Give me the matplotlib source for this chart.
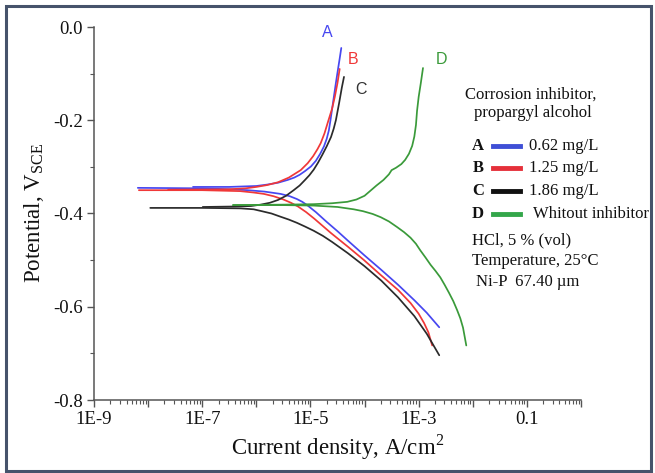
import numpy as np
import matplotlib
matplotlib.use("Agg")
import matplotlib.pyplot as plt
from matplotlib.patches import Rectangle
from matplotlib.lines import Line2D
from matplotlib.ticker import FixedLocator, LogLocator, NullFormatter, MultipleLocator

plt.rcParams['font.family'] = ['Liberation Serif', 'DejaVu Serif']
plt.rcParams['mathtext.fontset'] = 'custom'
plt.rcParams['mathtext.rm'] = 'Liberation Serif'

# ---- data: log10(current density, A/cm2) and potential (V vs SCE) ----
a_an_logi = [-7.17, -6.5, -6.0, -5.8, -5.6, -5.42, -5.3, -5.2, -5.1, -4.99, -4.9, -4.82, -4.75, -4.70,
             -4.66, -4.63, -4.58, -4.53, -4.49, -4.46, -4.43]
a_an_E    = [-0.343, -0.343, -0.341, -0.338, -0.334, -0.328, -0.323, -0.317, -0.309, -0.299, -0.287, -0.272,
             -0.256, -0.240, -0.222, -0.200, -0.160, -0.120, -0.090, -0.068, -0.045]
a_ca_logi = [-8.19, -7.0, -6.5, -6.16, -5.85, -5.55, -5.38, -5.25, -5.15, -5.05, -4.9, -4.7, -4.5, -4.31,
             -4.0, -3.69, -3.38, -3.08, -2.85, -2.62]
a_ca_E    = [-0.345, -0.346, -0.348, -0.350, -0.353, -0.358, -0.363, -0.369, -0.375, -0.383, -0.397, -0.418,
             -0.438, -0.458, -0.490, -0.521, -0.553, -0.586, -0.613, -0.644]

b_an_logi = [-7.63, -6.5, -6.2, -6.0, -5.8, -5.6, -5.4, -5.18, -5.05, -4.95, -4.87, -4.81, -4.74, -4.68,
             -4.6, -4.55, -4.5, -4.46]
b_an_E    = [-0.349, -0.348, -0.346, -0.343, -0.339, -0.333, -0.323, -0.307, -0.292, -0.277, -0.262, -0.249,
             -0.228, -0.205, -0.175, -0.150, -0.120, -0.090]
b_ca_logi = [-8.17, -7.0, -6.3, -6.05, -5.86, -5.68, -5.5, -5.36, -5.23, -5.08, -4.93, -4.78, -4.62, -4.3,
             -4.01, -3.7, -3.38, -3.15, -3.0, -2.9, -2.82, -2.75]
b_ca_E    = [-0.350, -0.350, -0.352, -0.355, -0.358, -0.363, -0.370, -0.377, -0.385, -0.397, -0.411, -0.426,
             -0.442, -0.472, -0.500, -0.532, -0.564, -0.592, -0.615, -0.635, -0.655, -0.683]

c_an_logi = [-6.99, -6.4, -6.1, -5.92, -5.75, -5.6, -5.45, -5.31, -5.2, -5.1, -5.02, -4.94, -4.86, -4.78,
             -4.7, -4.62, -4.57, -4.53, -4.47, -4.42, -4.38]
c_an_E    = [-0.386, -0.385, -0.384, -0.381, -0.377, -0.371, -0.362, -0.350, -0.340, -0.328, -0.318, -0.306,
             -0.291, -0.274, -0.256, -0.236, -0.218, -0.200, -0.163, -0.130, -0.107]
c_ca_logi = [-7.96, -7.0, -6.29, -6.05, -5.9, -5.72, -5.55, -5.4, -5.25, -5.1, -4.94, -4.77, -4.6, -4.31,
             -4.0, -3.69, -3.38, -3.08, -2.85, -2.62]
c_ca_E    = [-0.388, -0.388, -0.389, -0.391, -0.395, -0.400, -0.407, -0.413, -0.420, -0.428, -0.437, -0.448,
             -0.461, -0.485, -0.513, -0.544, -0.580, -0.620, -0.658, -0.704]

d_an_logi = [-6.43, -5.5, -4.94, -4.6, -4.32, -4.15, -4.0, -3.9, -3.78, -3.65, -3.55, -3.5, -3.42, -3.32,
             -3.25, -3.18, -3.12, -3.08, -3.05, -3.03, -3.0, -2.96, -2.92]
d_an_E    = [-0.382, -0.381, -0.380, -0.378, -0.375, -0.370, -0.362, -0.352, -0.340, -0.328, -0.316, -0.307,
             -0.302, -0.294, -0.285, -0.272, -0.255, -0.235, -0.210, -0.180, -0.150, -0.120, -0.088]
d_ca_logi = [-6.43, -5.5, -4.94, -4.5, -4.2, -4.03, -3.85, -3.7, -3.55, -3.4, -3.27, -3.15, -3.05, -2.97,
             -2.87, -2.78, -2.69, -2.60, -2.52, -2.44, -2.36, -2.29, -2.23, -2.18, -2.15, -2.12]
d_ca_E    = [-0.382, -0.382, -0.383, -0.386, -0.391, -0.395, -0.401, -0.408, -0.417, -0.429, -0.440, -0.452,
             -0.465, -0.479, -0.495, -0.510, -0.523, -0.537, -0.553, -0.570, -0.588, -0.607, -0.625, -0.645,
             -0.664, -0.683]

curve_names = ['A', 'B', 'C', 'D']
legend_texts = ['0.62 mg/L', '1.25 mg/L', '1.86 mg/L', 'Whitout inhibitor']
colors = ['#4747f0', '#f03838', '#2b2b2b', '#3a9a3a']
legend_colors = ['#3f4fd6', '#e5303a', '#111111', '#33a64a']

x_tick_vals = [1e-9, 1e-7, 1e-5, 1e-3, 0.1]
x_tick_labels = ['1E-9', '1E-7', '1E-5', '1E-3', '0.1']
y_tick_vals = [0.0, -0.2, -0.4, -0.6, -0.8]
y_tick_labels = ['0.0', '-0.2', '-0.4', '-0.6', '-0.8']

# ---- figure ----
W, H = 655, 473
fig = plt.figure(figsize=(W / 100, H / 100), dpi=100)
ax = fig.add_axes([94 / W, 1 - 400 / H, (581 - 94) / W, (400 - 27) / H])

series = [
    (a_an_logi, a_an_E, a_ca_logi, a_ca_E),
    (b_an_logi, b_an_E, b_ca_logi, b_ca_E),
    (c_an_logi, c_an_E, c_ca_logi, c_ca_E),
    (d_an_logi, d_an_E, d_ca_logi, d_ca_E),
]
for (al, ae, cl, ce), col in zip(series, colors):
    ax.plot(10.0 ** np.array(cl), ce, color=col, lw=1.25, solid_joinstyle='round', solid_capstyle='round')
    ax.plot(10.0 ** np.array(al), ae, color=col, lw=1.25, solid_joinstyle='round', solid_capstyle='round')

ax.set_xscale('log')
ax.set_xlim(1e-9, 1)
ax.set_ylim(-0.8, 0.0)

ax.xaxis.set_major_locator(FixedLocator([10.0 ** k for k in range(-9, 1)]))
ax.xaxis.set_minor_locator(LogLocator(base=10, subs=np.arange(2, 10), numticks=30))
ax.xaxis.set_minor_formatter(NullFormatter())
major_labels = []
for k in range(-9, 1):
    lab = ''
    for tv, tl in zip(x_tick_vals, x_tick_labels):
        if abs(np.log10(tv) - k) < 1e-6:
            lab = tl
    major_labels.append(lab)
ax.set_xticklabels(major_labels)

ax.set_yticks(y_tick_vals)
ax.set_yticklabels(y_tick_labels)
ax.yaxis.set_minor_locator(MultipleLocator(0.1))

for s in ['top', 'right']:
    ax.spines[s].set_visible(False)
for s in ['left', 'bottom']:
    ax.spines[s].set_color('#555555')
    ax.spines[s].set_linewidth(1.1)
ax.tick_params(which='major', direction='out', length=5, width=1.0, color='#555555',
               labelsize=13.5, labelcolor='#111111', pad=3)
ax.tick_params(which='minor', direction='out', length=3, width=0.8, color='#555555')

ax.set_xlabel(r'Current density, A/cm$^{\mathregular{2}}$', fontsize=16.5, color='#111111', labelpad=3)
ax.set_ylabel(r'Potential, V$_{\mathregular{SCE}}$', fontsize=16.5, color='#111111', labelpad=5)

# curve labels
label_pos = [(10 ** -4.68, -0.011), (10 ** -4.21, -0.069), (10 ** -4.06, -0.133), (10 ** -2.58, -0.069)]
for name, (lx, ly), col in zip(curve_names, label_pos, colors):
    ax.text(lx, ly, name, color=col if name != 'C' else '#333333', fontsize=11.5,
            family='Liberation Sans', ha='center', va='center')

# legend block in pixel coordinates
def fx(x):
    return x / W

def fy(y):
    return 1 - y / H

fig.text(fx(531), fy(95), 'Corrosion inhibitor,', fontsize=12, ha='center', va='center', color='#111111')
fig.text(fx(533), fy(113), 'propargyl alcohol', fontsize=12, ha='center', va='center', color='#111111')
rows_y = [146, 168, 191, 214]
for name, txt, col, ry in zip(curve_names, legend_texts, legend_colors, rows_y):
    fig.text(fx(478), fy(ry), name, fontsize=12, fontweight='bold', ha='center', va='center', color='#111111')
    fig.add_artist(Line2D([fx(493), fx(520)], [fy(ry), fy(ry)], color=col, lw=3.5,
                          transform=fig.transFigure))
    tx = 529 if name != 'D' else 533
    fig.text(fx(tx), fy(ry), txt, fontsize=12, ha='left', va='center', color='#111111')

fig.text(fx(472), fy(240), 'HCl, 5 % (vol)', fontsize=12, ha='left', va='center', color='#111111')
fig.text(fx(472), fy(261), 'Temperature, 25\u00b0C', fontsize=12, ha='left', va='center', color='#111111')
fig.text(fx(476), fy(282), 'Ni-P  67.40 \u00b5m', fontsize=12, ha='left', va='center', color='#111111')

# outer frame
fig.add_artist(Rectangle((fx(6), fy(471)), fx(645), 465 / H, transform=fig.transFigure,
                         fill=False, edgecolor='#46536b', lw=2.2))

fig.savefig('out.png', dpi=100)
